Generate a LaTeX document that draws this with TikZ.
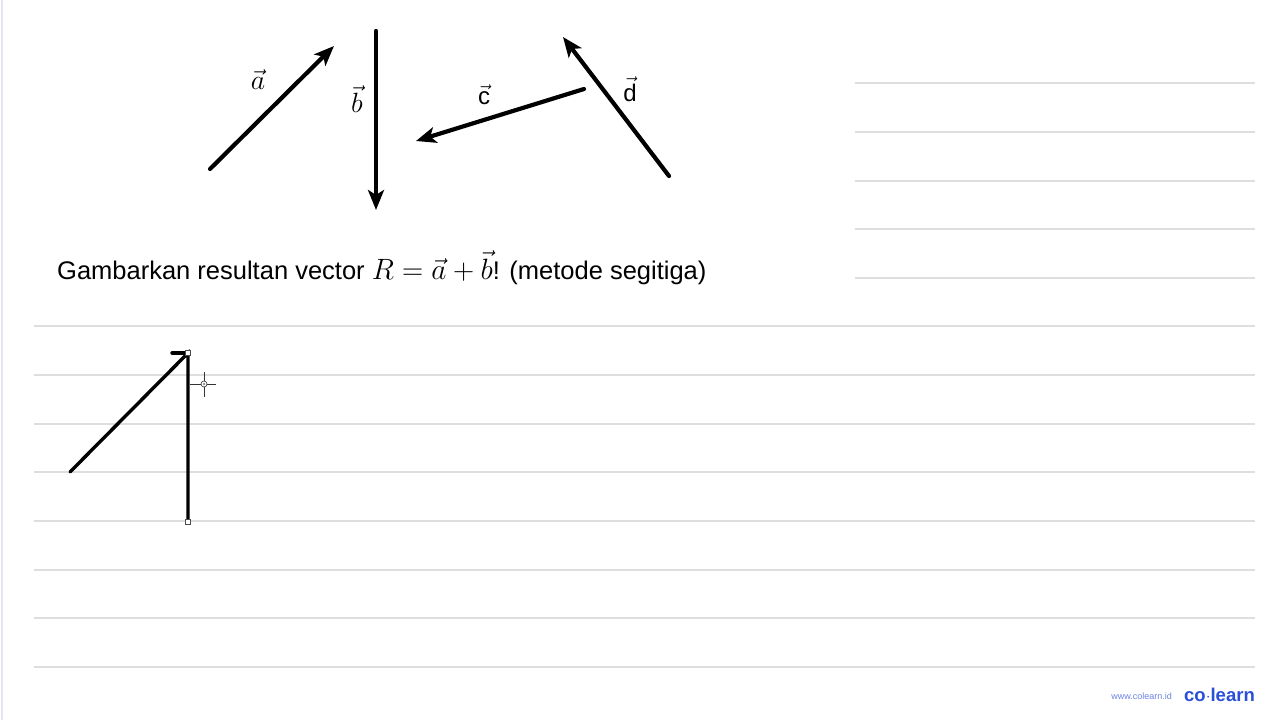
\documentclass[tikz,border=0pt]{standalone}
\usepackage{graphicx}
\usepackage{fontspec}
\setmainfont{Liberation Sans}
\usetikzlibrary{arrows.meta}
\definecolor{rule}{HTML}{DEDEDE}
\definecolor{clblue}{HTML}{2B4FD8}
\definecolor{edge}{HTML}{E4E4F2}
\tikzset{
  vec/.style={line width=4.2pt, line cap=round, -{Stealth[length=20pt,width=16pt,inset=5pt]}},
  ruled/.style={draw=rule, line width=1.4pt},
  sketch/.style={line width=3.4pt, line cap=round},
  handle/.style={draw=black!70, fill=white, line width=0.6pt, minimum size=5pt, inner sep=0pt},
  lbl/.style={inner sep=0pt, font=\fontsize{24}{28}\selectfont}
}
\begin{document}
\begin{tikzpicture}[x=1pt,y=-1pt]
\useasboundingbox (0,0) rectangle (1280,720);
\fill[white] (0,0) rectangle (1280,720);
\draw[edge, line width=1.5pt] (2,0) -- (2,720);
% ruled lines
\foreach \y in {83,132,181,229,278} \draw[ruled] (855,\y) -- (1255,\y);
\foreach \y in {326,375,424,472,521,570,618,667} \draw[ruled] (34,\y) -- (1255,\y);
% vectors
\coordinate (a0) at (210,169); \coordinate (a1) at (334,46);
\coordinate (b0) at (376,31); \coordinate (b1) at (376,210);
\coordinate (c0) at (584,89); \coordinate (c1) at (416,141);
\coordinate (d0) at (669,176); \coordinate (d1) at (563,37);
\draw[vec] (a0) -- (a1);
\draw[vec] (b0) -- (b1);
\draw[vec] (c0) -- (c1);
\draw[vec] (d0) -- (d1);
\node[lbl] (la) at (258,80) {\scalebox{1.12}{$\vec{a}$}};
\node[lbl] (lb) at (357,99) {\scalebox{1.12}{$\vec{b}$}};
\node[lbl] (lc) at (484,95) {$\vec{\hbox{c}}$};
\node[lbl] (ld) at (630,89) {$\vec{\hbox{d}}$};
% question
\node[anchor=west, inner sep=0pt, font=\fontsize{25.5}{30}\selectfont] (q) at (57,268)
  {Gambarkan resultan vector \scalebox{1.18}{$R=\vec{a}+\vec{b}$}! (metode segitiga)};
% sketch
\coordinate (s0) at (70,472);
\coordinate (s1) at (188,353);
\coordinate (s2) at (188,522);
\coordinate (st) at (172,353);
\draw[sketch] (s0) -- (s1) -- (s2);
\draw[sketch] (st) -- (s1);
\node[handle] (h1) at (s1) {};
\node[handle] (h2) at (s2) {};
% cursor
\coordinate (cc) at (204,384);
\draw[black!80, line width=0.7pt] (190,384) -- (216,384) (204,372) -- (204,397);
\draw[black!80, fill=white, line width=0.6pt] (cc) circle (3);
\fill[black!80] (cc) circle (0.8);
% logo
\node[anchor=east, inner sep=0pt, text=clblue!70, font=\fontsize{9}{10}\selectfont] (www) at (1172,696) {www.colearn.id};
\node[anchor=west, inner sep=0pt, text=clblue, font=\fontsize{18.5}{20}\selectfont\bfseries] (logo) at (1184,695) {co$\cdot$learn};
\end{tikzpicture}
\end{document}
